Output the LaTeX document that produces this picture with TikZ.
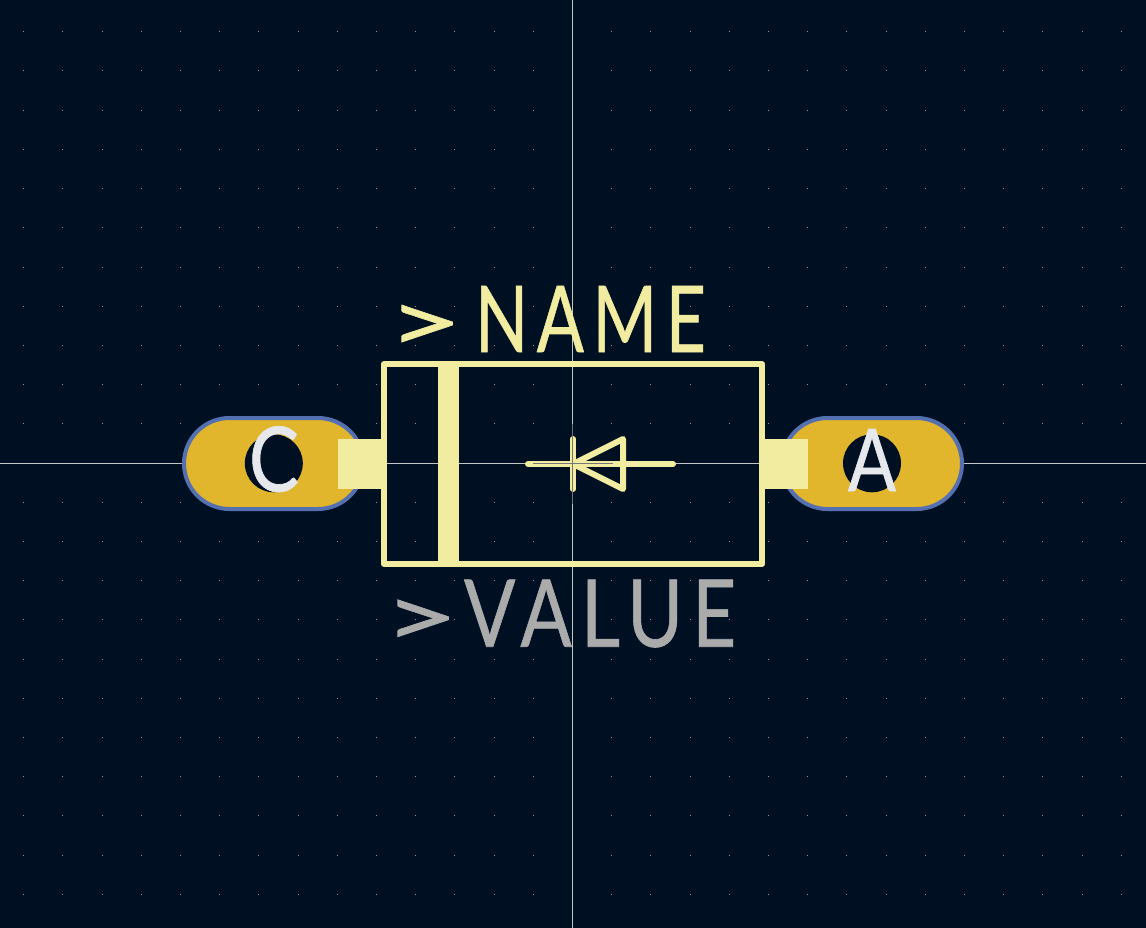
\documentclass[tikz,border=0pt]{standalone}
\usepackage{fontspec}
\usepackage{graphicx}
\setmainfont{Lato}
\definecolor{bgc}{HTML}{001023}
\definecolor{silk}{HTML}{F2ECA1}
\definecolor{padc}{HTML}{E1B52C}
\definecolor{padedge}{HTML}{5470B0}
\definecolor{cross}{HTML}{C4C6C8}
\definecolor{valc}{HTML}{ABABAB}
\definecolor{griddot}{HTML}{94989C}
\definecolor{padtext}{HTML}{E6E8EC}
\definecolor{midgray}{HTML}{747678}
\tikzset{
  silkline/.style={draw=silk,line width=6pt,line cap=round,line join=round},
  padshape/.style={fill=padc,draw=padedge,line width=4pt,rounded corners=45.5pt},
  holeshape/.style={fill=bgc,draw=none},
  crossline/.style={draw=cross,line width=1pt},
  centremark/.style={draw=midgray,line width=1pt},
  tabshape/.style={fill=silk,draw=none},
  bigtext/.style={inner sep=0pt,outer sep=0pt,anchor=south west},
  padletter/.style={inner sep=0pt,outer sep=0pt,text=padtext,anchor=south west}
}
\newcommand{\bigword}[2]{\addfontfeature{LetterSpace=12,FakeBold=0.7}\hspace{-13pt}\makebox[#1][l]{\resizebox{76pt}{47pt}{>}}#2}
\begin{document}
\begin{tikzpicture}[x=1pt,y=-1pt]
\useasboundingbox (0,0) rectangle (1146,928);
\fill[bgc] (0,0) rectangle (1146,928);
% grid
\foreach \k in {-14,...,14}{
  \foreach \j in {-11,...,11}{
    \fill[griddot] ({572.5+39.2*\k-0.5},{463+39.2*\j-0.5}) rectangle ++(1,1);
  }
}
% crosshair
\coordinate (ct) at (572.5,0);
\coordinate (cb) at (572.5,928);
\coordinate (cl) at (0,463.5);
\coordinate (cr) at (1146,463.5);
\draw[crossline] (ct) -- (cb);
\draw[crossline] (cl) -- (cr);
% pads
\draw[padshape] (184,418) rectangle (363.5,509);
\draw[padshape] (782,418) rectangle (962,509);
\fill[holeshape] (273.8,463.3) circle[radius=29];
\fill[holeshape] (872,463.3) circle[radius=29];
% silk body
\fill[tabshape] (338,439) rectangle (384,489);
\fill[tabshape] (760,439) rectangle (808,489);
\fill[tabshape] (438,364) rectangle (459,564);
\draw[silkline] (384,364) rectangle (762,564);
% diode
\coordinate (dl) at (528,464);
\coordinate (dr) at (673,464);
\coordinate (dk1) at (573,439);
\coordinate (dk2) at (573,489);
\coordinate (da1) at (623,439);
\coordinate (da2) at (623,489);
\coordinate (dap) at (573,464);
\draw[silkline] (dl) -- (dr);
\draw[silkline] (dk1) -- (dk2);
\draw[silkline] (dap) -- (da1) -- (da2) -- cycle;
\draw[centremark] (533,463.5) -- (613,463.5);
\draw[centremark] (572.5,424) -- (572.5,504);
% texts
\node[bigtext,text=silk] (name) at (400,352) {\bigword{88pt}{\resizebox{231pt}{66pt}{NAME}}};
\node[bigtext,text=valc] (value) at (396,647.5) {\bigword{81pt}{\resizebox{272pt}{67pt}{VALUE}}};
\node[padletter] (padC) at (249,492) {\addfontfeature{FakeBold=0.8}\resizebox{50pt}{65pt}{C}};
\node[padletter] (padA) at (848,491) {\addfontfeature{FakeBold=0.8}\resizebox{48pt}{62pt}{A}};
\end{tikzpicture}
\end{document}
